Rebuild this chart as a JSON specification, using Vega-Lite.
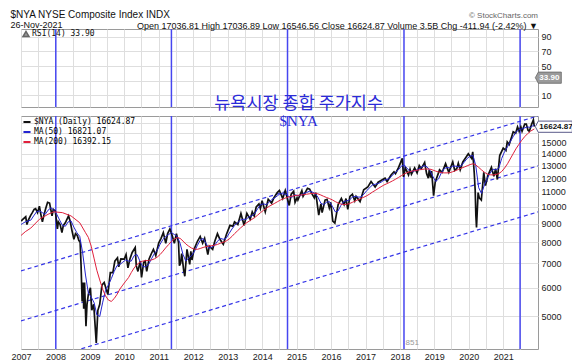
{
  "$schema": "https://vega.github.io/schema/vega-lite/v6.json",
  "padding": {"left": 10, "top": 9, "right": 1, "bottom": 5},
  "background": "white",
  "config": {
    "font": "Liberation Sans",
    "view": {"stroke": "#9a9a9a", "strokeWidth": 1},
    "axis": {"labelFont": "Liberation Sans", "labelFontSize": 9, "labelColor": "#222", "gridColor": "#dedede", "gridWidth": 1, "ticks": false, "domain": false, "title": null, "labelOverlap": false}
  },
  "title": {"text": "$NYA NYSE Composite Index INDX", "subtitle": "26-Nov-2021", "anchor": "start", "frame": "bounds", "fontSize": 10, "fontWeight": "normal", "color": "#111", "subtitleFontSize": 9, "subtitleColor": "#111", "subtitlePadding": 1, "offset": -18},
  "spacing": 0,
  "resolve": {"scale": {"color": "independent"}, "legend": {"color": "independent"}},
  "datasets": {
    "vlines": [{"d": "2008-01-05"}, {"d": "2011-05-15"}, {"d": "2014-09-27"}, {"d": "2018-02-13"}, {"d": "2021-06-28"}],
    "channels": [
      {"k": "a", "d": "2007-01-01", "v": 6674}, {"k": "a", "d": "2022-01-04", "v": 17800},
      {"k": "b", "d": "2007-01-01", "v": 4863}, {"k": "b", "d": "2022-01-04", "v": 12970},
      {"k": "c", "d": "2007-01-01", "v": 3635}, {"k": "c", "d": "2022-01-04", "v": 9695}
    ],
    "price": [
      {"d":"2007-01-03","v":9140},{"d":"2007-01-20","v":9250},{"d":"2007-02-20","v":9400},{"d":"2007-03-05","v":8950},{"d":"2007-03-20","v":9200},{"d":"2007-04-15","v":9500},{"d":"2007-05-01","v":9650},{"d":"2007-05-20","v":9850},{"d":"2007-06-05","v":9900},{"d":"2007-06-25","v":9650},{"d":"2007-07-15","v":10050},{"d":"2007-08-01","v":9500},{"d":"2007-08-16","v":9100},{"d":"2007-09-01","v":9500},{"d":"2007-09-20","v":9900},{"d":"2007-10-10","v":10300},{"d":"2007-10-31","v":10250},{"d":"2007-11-26","v":9450},{"d":"2007-12-10","v":9850},{"d":"2007-12-31","v":9740},
      {"d":"2008-01-22","v":8700},{"d":"2008-02-01","v":9100},{"d":"2008-02-20","v":8950},{"d":"2008-03-10","v":8500},{"d":"2008-03-25","v":8900},{"d":"2008-04-15","v":9050},{"d":"2008-05-19","v":9450},{"d":"2008-06-05","v":9150},{"d":"2008-06-25","v":8600},{"d":"2008-07-15","v":8150},{"d":"2008-08-01","v":8450},{"d":"2008-08-20","v":8350},{"d":"2008-09-05","v":8100},{"d":"2008-09-19","v":8000},{"d":"2008-09-29","v":6900},{"d":"2008-10-10","v":5500},{"d":"2008-10-20","v":6200},{"d":"2008-10-27","v":5250},{"d":"2008-11-05","v":6200},{"d":"2008-11-20","v":4700},{"d":"2008-12-01","v":5400},{"d":"2008-12-15","v":5750},
      {"d":"2009-01-06","v":6000},{"d":"2009-01-20","v":5200},{"d":"2009-02-10","v":5400},{"d":"2009-03-09","v":4230},{"d":"2009-03-26","v":5200},{"d":"2009-04-15","v":5400},{"d":"2009-05-08","v":6100},{"d":"2009-06-01","v":6200},{"d":"2009-07-10","v":5750},{"d":"2009-08-05","v":6600},{"d":"2009-09-01","v":6600},{"d":"2009-09-22","v":7100},{"d":"2009-10-20","v":7250},{"d":"2009-11-02","v":6850},{"d":"2009-11-25","v":7200},{"d":"2009-12-31","v":7190},
      {"d":"2010-01-19","v":7400},{"d":"2010-02-08","v":6800},{"d":"2010-03-01","v":7200},{"d":"2010-03-25","v":7500},{"d":"2010-04-26","v":7740},{"d":"2010-05-07","v":6900},{"d":"2010-05-25","v":6650},{"d":"2010-06-18","v":7100},{"d":"2010-07-02","v":6400},{"d":"2010-07-25","v":7050},{"d":"2010-08-10","v":7100},{"d":"2010-08-26","v":6650},{"d":"2010-09-20","v":7200},{"d":"2010-10-15","v":7450},{"d":"2010-11-05","v":7650},{"d":"2010-11-30","v":7350},{"d":"2010-12-31","v":7960},
      {"d":"2011-01-25","v":8200},{"d":"2011-02-18","v":8500},{"d":"2011-03-16","v":7950},{"d":"2011-04-05","v":8450},{"d":"2011-04-29","v":8700},{"d":"2011-05-23","v":8350},{"d":"2011-06-15","v":7950},{"d":"2011-07-07","v":8450},{"d":"2011-07-29","v":8000},{"d":"2011-08-08","v":6900},{"d":"2011-08-20","v":7000},{"d":"2011-09-01","v":7450},{"d":"2011-09-22","v":6700},{"d":"2011-10-04","v":6450},{"d":"2011-10-27","v":7650},{"d":"2011-11-25","v":6950},{"d":"2011-12-07","v":7550},{"d":"2011-12-19","v":7150},
      {"d":"2012-01-10","v":7650},{"d":"2012-02-15","v":8050},{"d":"2012-03-15","v":8300},{"d":"2012-04-10","v":7950},{"d":"2012-05-01","v":8200},{"d":"2012-06-04","v":7400},{"d":"2012-06-20","v":7800},{"d":"2012-07-25","v":7650},{"d":"2012-08-17","v":8050},{"d":"2012-09-14","v":8450},{"d":"2012-10-10","v":8150},{"d":"2012-11-15","v":7900},{"d":"2012-12-18","v":8400},
      {"d":"2013-01-25","v":8900},{"d":"2013-02-25","v":8850},{"d":"2013-03-14","v":9100},{"d":"2013-04-18","v":8950},{"d":"2013-05-21","v":9600},{"d":"2013-06-24","v":8900},{"d":"2013-07-23","v":9600},{"d":"2013-08-27","v":9250},{"d":"2013-09-18","v":9700},{"d":"2013-10-09","v":9450},{"d":"2013-10-30","v":10000},{"d":"2013-11-28","v":10200},{"d":"2013-12-13","v":9900},{"d":"2013-12-31","v":10400},
      {"d":"2014-02-03","v":9700},{"d":"2014-03-06","v":10500},{"d":"2014-04-11","v":10250},{"d":"2014-05-05","v":10600},{"d":"2014-06-10","v":10950},{"d":"2014-07-03","v":11100},{"d":"2014-08-07","v":10550},{"d":"2014-09-03","v":11100},{"d":"2014-10-15","v":10100},{"d":"2014-11-05","v":10850},{"d":"2014-12-01","v":11050},{"d":"2014-12-16","v":10300},
      {"d":"2015-01-06","v":10600},{"d":"2015-01-15","v":10450},{"d":"2015-02-26","v":11100},{"d":"2015-03-11","v":10700},{"d":"2015-04-27","v":11250},{"d":"2015-05-20","v":11200},{"d":"2015-06-15","v":10850},{"d":"2015-07-08","v":10600},{"d":"2015-07-23","v":10950},{"d":"2015-08-24","v":9500},{"d":"2015-09-16","v":10200},{"d":"2015-09-29","v":9650},{"d":"2015-10-30","v":10450},{"d":"2015-11-20","v":10500},{"d":"2015-12-14","v":9950},{"d":"2015-12-29","v":10300},
      {"d":"2016-01-20","v":9150},{"d":"2016-02-11","v":9030},{"d":"2016-03-17","v":10150},{"d":"2016-04-20","v":10550},{"d":"2016-05-19","v":10150},{"d":"2016-06-08","v":10550},{"d":"2016-06-27","v":9850},{"d":"2016-07-20","v":10700},{"d":"2016-08-15","v":10850},{"d":"2016-09-09","v":10400},{"d":"2016-09-23","v":10700},{"d":"2016-11-04","v":10350},{"d":"2016-12-13","v":11150},
      {"d":"2017-01-26","v":11350},{"d":"2017-03-01","v":11750},{"d":"2017-04-13","v":11350},{"d":"2017-05-15","v":11700},{"d":"2017-06-19","v":11850},{"d":"2017-07-27","v":12000},{"d":"2017-08-18","v":11750},{"d":"2017-09-29","v":12250},{"d":"2017-10-30","v":12500},{"d":"2017-11-15","v":12350},{"d":"2017-12-18","v":12850},
      {"d":"2018-01-26","v":13600},{"d":"2018-02-08","v":12100},{"d":"2018-02-27","v":12800},{"d":"2018-04-02","v":12250},{"d":"2018-04-18","v":12700},{"d":"2018-05-03","v":12300},{"d":"2018-06-06","v":12800},{"d":"2018-07-02","v":12400},{"d":"2018-07-25","v":13000},{"d":"2018-08-15","v":12750},{"d":"2018-09-20","v":13250},{"d":"2018-10-11","v":12350},{"d":"2018-10-29","v":12000},{"d":"2018-11-08","v":12650},{"d":"2018-11-23","v":12050},{"d":"2018-12-03","v":12550},{"d":"2018-12-24","v":10750},
      {"d":"2019-01-10","v":11700},{"d":"2019-02-25","v":12650},{"d":"2019-03-25","v":12450},{"d":"2019-04-30","v":13150},{"d":"2019-06-03","v":12450},{"d":"2019-07-15","v":13300},{"d":"2019-08-05","v":12600},{"d":"2019-08-27","v":12750},{"d":"2019-09-12","v":13200},{"d":"2019-10-02","v":12650},{"d":"2019-10-30","v":13300},{"d":"2019-11-29","v":13650},{"d":"2019-12-27","v":14000},
      {"d":"2020-01-31","v":13600},{"d":"2020-02-12","v":14180},{"d":"2020-02-28","v":12400},{"d":"2020-03-09","v":11100},{"d":"2020-03-16","v":9500},{"d":"2020-03-23","v":8780},{"d":"2020-04-09","v":10950},{"d":"2020-04-21","v":10600},{"d":"2020-05-13","v":10450},{"d":"2020-06-08","v":12450},{"d":"2020-06-26","v":11450},{"d":"2020-07-22","v":12200},{"d":"2020-08-28","v":12850},{"d":"2020-09-23","v":12150},{"d":"2020-10-12","v":12750},{"d":"2020-10-30","v":11900},{"d":"2020-11-24","v":13850},{"d":"2020-12-31","v":14520},
      {"d":"2021-01-29","v":14300},{"d":"2021-02-12","v":15100},{"d":"2021-03-04","v":14850},{"d":"2021-03-31","v":15600},{"d":"2021-04-16","v":16100},{"d":"2021-05-12","v":15950},{"d":"2021-06-01","v":16600},{"d":"2021-06-18","v":16150},{"d":"2021-07-06","v":16600},{"d":"2021-07-19","v":16150},{"d":"2021-08-16","v":16900},{"d":"2021-09-02","v":16900},{"d":"2021-09-20","v":16250},{"d":"2021-10-04","v":16150},{"d":"2021-10-29","v":16900},{"d":"2021-11-16","v":17350},{"d":"2021-11-26","v":16625}
    ],
    "ma50": [
      {"d":"2007-01-01","v":8950},{"d":"2007-01-15","v":9000},{"d":"2007-02-15","v":9100},{"d":"2007-03-15","v":9150},{"d":"2007-04-15","v":9200},{"d":"2007-05-15","v":9450},{"d":"2007-06-15","v":9700},{"d":"2007-07-15","v":9750},{"d":"2007-08-15","v":9650},{"d":"2007-09-15","v":9550},{"d":"2007-10-15","v":9800},{"d":"2007-11-15","v":9950},{"d":"2007-12-15","v":9800},
      {"d":"2008-01-15","v":9550},{"d":"2008-02-15","v":9200},{"d":"2008-03-15","v":8900},{"d":"2008-04-15","v":8850},{"d":"2008-05-15","v":9100},{"d":"2008-06-15","v":9150},{"d":"2008-07-15","v":8800},{"d":"2008-08-15","v":8500},{"d":"2008-09-15","v":8300},{"d":"2008-10-15","v":7500},{"d":"2008-11-15","v":6500},{"d":"2008-12-15","v":5800},
      {"d":"2009-01-15","v":5650},{"d":"2009-02-15","v":5450},{"d":"2009-03-15","v":5050},{"d":"2009-04-15","v":5000},{"d":"2009-05-15","v":5450},{"d":"2009-06-15","v":5900},{"d":"2009-07-15","v":6100},{"d":"2009-08-15","v":6350},{"d":"2009-09-15","v":6650},{"d":"2009-10-15","v":6900},{"d":"2009-11-15","v":6950},{"d":"2009-12-15","v":7050},
      {"d":"2010-01-15","v":7150},{"d":"2010-02-15","v":7100},{"d":"2010-03-15","v":7100},{"d":"2010-04-15","v":7350},{"d":"2010-05-15","v":7400},{"d":"2010-06-15","v":7100},{"d":"2010-07-15","v":6850},{"d":"2010-08-15","v":6850},{"d":"2010-09-15","v":6950},{"d":"2010-10-15","v":7200},{"d":"2010-11-15","v":7450},{"d":"2010-12-15","v":7600},
      {"d":"2011-01-15","v":7900},{"d":"2011-02-15","v":8150},{"d":"2011-03-15","v":8300},{"d":"2011-04-15","v":8400},{"d":"2011-05-15","v":8500},{"d":"2011-06-15","v":8400},{"d":"2011-07-15","v":8300},{"d":"2011-08-15","v":7950},{"d":"2011-09-15","v":7400},{"d":"2011-10-15","v":7100},{"d":"2011-11-15","v":7250},{"d":"2011-12-15","v":7350},
      {"d":"2012-01-15","v":7550},{"d":"2012-02-15","v":7850},{"d":"2012-03-15","v":8100},{"d":"2012-04-15","v":8200},{"d":"2012-05-15","v":7950},{"d":"2012-06-15","v":7700},{"d":"2012-07-15","v":7750},{"d":"2012-08-15","v":7850},{"d":"2012-09-15","v":8050},{"d":"2012-10-15","v":8200},{"d":"2012-11-15","v":8150},{"d":"2012-12-15","v":8200},
      {"d":"2013-01-15","v":8450},{"d":"2013-02-15","v":8700},{"d":"2013-03-15","v":8900},{"d":"2013-04-15","v":9050},{"d":"2013-05-15","v":9200},{"d":"2013-06-15","v":9250},{"d":"2013-07-15","v":9250},{"d":"2013-08-15","v":9400},{"d":"2013-09-15","v":9450},{"d":"2013-10-15","v":9600},{"d":"2013-11-15","v":9900},{"d":"2013-12-15","v":10150},
      {"d":"2014-01-15","v":10200},{"d":"2014-02-15","v":10150},{"d":"2014-03-15","v":10300},{"d":"2014-04-15","v":10500},{"d":"2014-05-15","v":10600},{"d":"2014-06-15","v":10750},{"d":"2014-07-15","v":10900},{"d":"2014-08-15","v":10850},{"d":"2014-09-15","v":10850},{"d":"2014-10-15","v":10650},{"d":"2014-11-15","v":10650},{"d":"2014-12-15","v":10800},
      {"d":"2015-01-15","v":10750},{"d":"2015-02-15","v":10750},{"d":"2015-03-15","v":10900},{"d":"2015-04-15","v":10950},{"d":"2015-05-15","v":11050},{"d":"2015-06-15","v":11000},{"d":"2015-07-15","v":10900},{"d":"2015-08-15","v":10650},{"d":"2015-09-15","v":10250},{"d":"2015-10-15","v":10150},{"d":"2015-11-15","v":10300},{"d":"2015-12-15","v":10350},
      {"d":"2016-01-15","v":10050},{"d":"2016-02-15","v":9700},{"d":"2016-03-15","v":9750},{"d":"2016-04-15","v":10100},{"d":"2016-05-15","v":10350},{"d":"2016-06-15","v":10400},{"d":"2016-07-15","v":10450},{"d":"2016-08-15","v":10650},{"d":"2016-09-15","v":10700},{"d":"2016-10-15","v":10650},{"d":"2016-11-15","v":10650},{"d":"2016-12-15","v":10850},
      {"d":"2017-01-15","v":11100},{"d":"2017-02-15","v":11300},{"d":"2017-03-15","v":11500},{"d":"2017-04-15","v":11550},{"d":"2017-05-15","v":11600},{"d":"2017-06-15","v":11700},{"d":"2017-07-15","v":11850},{"d":"2017-08-15","v":11900},{"d":"2017-09-15","v":12000},{"d":"2017-10-15","v":12250},{"d":"2017-11-15","v":12450},{"d":"2017-12-15","v":12650},
      {"d":"2018-01-15","v":12950},{"d":"2018-02-15","v":13050},{"d":"2018-03-15","v":12800},{"d":"2018-04-15","v":12550},{"d":"2018-05-15","v":12500},{"d":"2018-06-15","v":12600},{"d":"2018-07-15","v":12700},{"d":"2018-08-15","v":12850},{"d":"2018-09-15","v":13000},{"d":"2018-10-15","v":12900},{"d":"2018-11-15","v":12600},{"d":"2018-12-15","v":12150},
      {"d":"2019-01-15","v":11750},{"d":"2019-02-15","v":11950},{"d":"2019-03-15","v":12400},{"d":"2019-04-15","v":12750},{"d":"2019-05-15","v":12850},{"d":"2019-06-15","v":12800},{"d":"2019-07-15","v":12950},{"d":"2019-08-15","v":12950},{"d":"2019-09-15","v":12900},{"d":"2019-10-15","v":13000},{"d":"2019-11-15","v":13300},{"d":"2019-12-15","v":13600},
      {"d":"2020-01-15","v":13800},{"d":"2020-02-15","v":13850},{"d":"2020-03-15","v":13000},{"d":"2020-04-15","v":11300},{"d":"2020-05-15","v":10900},{"d":"2020-06-15","v":11500},{"d":"2020-07-15","v":12000},{"d":"2020-08-15","v":12400},{"d":"2020-09-15","v":12700},{"d":"2020-10-15","v":12650},{"d":"2020-11-15","v":12800},{"d":"2020-12-15","v":13600},
      {"d":"2021-01-15","v":14200},{"d":"2021-02-15","v":14650},{"d":"2021-03-15","v":15100},{"d":"2021-04-15","v":15600},{"d":"2021-05-15","v":16050},{"d":"2021-06-15","v":16300},{"d":"2021-07-15","v":16400},{"d":"2021-08-15","v":16500},{"d":"2021-09-15","v":16600},{"d":"2021-10-15","v":16550},{"d":"2021-11-26","v":16821}
    ],
    "ma200": [
      {"d":"2007-01-01","v":8350},{"d":"2007-02-15","v":8550},{"d":"2007-04-15","v":8750},{"d":"2007-07-15","v":9250},{"d":"2007-10-15","v":9550},{"d":"2007-12-15","v":9700},
      {"d":"2008-03-15","v":9650},{"d":"2008-06-15","v":9450},{"d":"2008-09-15","v":9050},{"d":"2008-11-15","v":8500},{"d":"2008-12-15","v":8250},
      {"d":"2009-01-15","v":7800},{"d":"2009-02-15","v":7200},{"d":"2009-03-15","v":6700},{"d":"2009-04-15","v":6300},{"d":"2009-05-15","v":5950},{"d":"2009-06-15","v":5700},{"d":"2009-07-15","v":5550},{"d":"2009-08-15","v":5500},{"d":"2009-09-15","v":5600},{"d":"2009-10-15","v":5750},{"d":"2009-11-15","v":5950},{"d":"2009-12-15","v":6100},
      {"d":"2010-01-15","v":6250},{"d":"2010-02-15","v":6400},{"d":"2010-03-15","v":6600},{"d":"2010-04-15","v":6800},{"d":"2010-05-15","v":6950},{"d":"2010-06-15","v":7050},{"d":"2010-07-15","v":7100},{"d":"2010-08-15","v":7120},{"d":"2010-09-15","v":7130},{"d":"2010-10-15","v":7150},{"d":"2010-11-15","v":7200},{"d":"2010-12-15","v":7280},
      {"d":"2011-01-15","v":7400},{"d":"2011-02-15","v":7560},{"d":"2011-03-15","v":7720},{"d":"2011-04-15","v":7880},{"d":"2011-05-15","v":8040},{"d":"2011-06-15","v":8160},{"d":"2011-07-15","v":8240},{"d":"2011-08-15","v":8200},{"d":"2011-09-15","v":8060},{"d":"2011-10-15","v":7910},{"d":"2011-11-15","v":7800},{"d":"2011-12-15","v":7710},
      {"d":"2012-01-15","v":7660},{"d":"2012-02-15","v":7650},{"d":"2012-03-15","v":7690},{"d":"2012-04-15","v":7740},{"d":"2012-05-15","v":7780},{"d":"2012-06-15","v":7810},{"d":"2012-07-15","v":7830},{"d":"2012-08-15","v":7850},{"d":"2012-09-15","v":7890},{"d":"2012-10-15","v":7950},{"d":"2012-11-15","v":8000},{"d":"2012-12-15","v":8060},
      {"d":"2013-01-15","v":8160},{"d":"2013-02-15","v":8300},{"d":"2013-03-15","v":8450},{"d":"2013-04-15","v":8600},{"d":"2013-05-15","v":8750},{"d":"2013-06-15","v":8890},{"d":"2013-07-15","v":9030},{"d":"2013-08-15","v":9140},{"d":"2013-09-15","v":9250},{"d":"2013-10-15","v":9360},{"d":"2013-11-15","v":9500},{"d":"2013-12-15","v":9650},
      {"d":"2014-01-15","v":9790},{"d":"2014-02-15","v":9920},{"d":"2014-03-15","v":10040},{"d":"2014-04-15","v":10140},{"d":"2014-05-15","v":10240},{"d":"2014-06-15","v":10350},{"d":"2014-07-15","v":10450},{"d":"2014-08-15","v":10540},{"d":"2014-09-15","v":10610},{"d":"2014-10-15","v":10670},{"d":"2014-11-15","v":10710},{"d":"2014-12-15","v":10750},
      {"d":"2015-01-15","v":10770},{"d":"2015-02-15","v":10790},{"d":"2015-03-15","v":10810},{"d":"2015-04-15","v":10840},{"d":"2015-05-15","v":10870},{"d":"2015-06-15","v":10900},{"d":"2015-07-15","v":10910},{"d":"2015-08-15","v":10870},{"d":"2015-09-15","v":10790},{"d":"2015-10-15","v":10700},{"d":"2015-11-15","v":10620},{"d":"2015-12-15","v":10550},
      {"d":"2016-01-15","v":10460},{"d":"2016-02-15","v":10350},{"d":"2016-03-15","v":10260},{"d":"2016-04-15","v":10190},{"d":"2016-05-15","v":10160},{"d":"2016-06-15","v":10170},{"d":"2016-07-15","v":10220},{"d":"2016-08-15","v":10300},{"d":"2016-09-15","v":10390},{"d":"2016-10-15","v":10480},{"d":"2016-11-15","v":10560},{"d":"2016-12-15","v":10640},
      {"d":"2017-01-15","v":10740},{"d":"2017-02-15","v":10860},{"d":"2017-03-15","v":10990},{"d":"2017-04-15","v":11110},{"d":"2017-05-15","v":11240},{"d":"2017-06-15","v":11370},{"d":"2017-07-15","v":11490},{"d":"2017-08-15","v":11590},{"d":"2017-09-15","v":11690},{"d":"2017-10-15","v":11800},{"d":"2017-11-15","v":11920},{"d":"2017-12-15","v":12050},
      {"d":"2018-01-15","v":12190},{"d":"2018-02-15","v":12320},{"d":"2018-03-15","v":12420},{"d":"2018-04-15","v":12500},{"d":"2018-05-15","v":12560},{"d":"2018-06-15","v":12600},{"d":"2018-07-15","v":12640},{"d":"2018-08-15","v":12680},{"d":"2018-09-15","v":12710},{"d":"2018-10-15","v":12720},{"d":"2018-11-15","v":12710},{"d":"2018-12-15","v":12640},
      {"d":"2019-01-15","v":12550},{"d":"2019-02-15","v":12480},{"d":"2019-03-15","v":12430},{"d":"2019-04-15","v":12410},{"d":"2019-05-15","v":12410},{"d":"2019-06-15","v":12430},{"d":"2019-07-15","v":12500},{"d":"2019-08-15","v":12590},{"d":"2019-09-15","v":12690},{"d":"2019-10-15","v":12790},{"d":"2019-11-15","v":12880},{"d":"2019-12-15","v":12980},
      {"d":"2020-01-15","v":13080},{"d":"2020-02-15","v":13150},{"d":"2020-03-15","v":13050},{"d":"2020-04-15","v":12850},{"d":"2020-05-15","v":12650},{"d":"2020-06-15","v":12460},{"d":"2020-07-15","v":12320},{"d":"2020-08-15","v":12260},{"d":"2020-09-15","v":12250},{"d":"2020-10-15","v":12280},{"d":"2020-11-15","v":12360},{"d":"2020-12-15","v":12520},
      {"d":"2021-01-15","v":12800},{"d":"2021-02-15","v":13150},{"d":"2021-03-15","v":13550},{"d":"2021-04-15","v":14000},{"d":"2021-05-15","v":14450},{"d":"2021-06-15","v":14860},{"d":"2021-07-15","v":15250},{"d":"2021-08-15","v":15600},{"d":"2021-09-15","v":15900},{"d":"2021-10-15","v":16150},{"d":"2021-11-26","v":16392}
    ]
  },
  "vconcat": [
    {
      "width": 517,
      "height": 78,
      "title": {"text": "© StockCharts.com", "subtitle": "Open 17036.81  High 17036.89  Low 16546.56  Close 16624.87  Volume 3.5B  Chg -411.94 (-2.42%) ▼", "anchor": "end", "frame": "group", "fontSize": 8, "fontWeight": "normal", "color": "#666", "subtitleFontSize": 9, "subtitleColor": "#111", "subtitlePadding": 2, "offset": -3},
      "layer": [
        {
          "data": {"name": "vlines"},
          "mark": {"type": "rule", "color": "#4646f0", "strokeWidth": 1.5},
          "encoding": {
            "x": {"field": "d", "type": "temporal",
              "scale": {"domain": [1167609600000, 1641254400000]},
              "axis": {"labels": false, "grid": true, "ticks": false, "domain": false, "tickCount": 60,
                "values": [1167609600000,1183248000000,1199145600000,1214870400000,1230768000000,1246406400000,1262304000000,1277942400000,1293840000000,1309478400000,1325376000000,1341100800000,1356998400000,1372636800000,1388534400000,1404172800000,1420070400000,1435708800000,1451606400000,1467331200000,1483228800000,1498867200000,1514764800000,1530403200000,1546300800000,1561939200000,1577836800000,1593561600000,1609459200000,1625097600000]}
            }
          }
        },
        {
          "data": {"values": [{"d": "2015-01-23", "r": -2, "label": "뉴욕시장 종합 주가지수"}]},
          "mark": {"type": "text", "font": "Noto Sans CJK KR", "fontSize": 17.5, "color": "#2b2bd8"},
          "encoding": {
            "x": {"field": "d", "type": "temporal", "scale": {"domain": [1167609600000, 1641254400000]}},
            "y": {"field": "r", "type": "quantitative", "scale": {"domain": [-6.5, 101], "nice": false, "zero": false},
              "axis": {"orient": "right", "values": [10, 30, 50, 70, 90], "tickCount": 20, "grid": true, "labelPadding": 3, "labelOverlap": false,
                "labelExpr": "datum.value == 30 ? '' : datum.label"}},
            "text": {"field": "label"}
          }
        },
        {
          "data": {"values": [{"d": "2021-11-26", "r": 33.9, "name": "RSI(14) 33.90"}]},
          "mark": {"type": "point", "shape": "M0.05,0 L0.2,-0.28 L1.35,-0.28 L1.35,0.28 L0.2,0.28 Z", "size": 1600, "filled": true, "opacity": 1, "stroke": "#666", "strokeWidth": 0.8},
          "encoding": {
            "x": {"field": "d", "type": "temporal", "scale": {"domain": [1167609600000, 1641254400000]}},
            "y": {"field": "r", "type": "quantitative", "scale": {"domain": [-6.5, 101], "nice": false, "zero": false}},
            "color": {"field": "name", "type": "nominal", "scale": {"range": ["#9a9a9a"]},
              "legend": {"orient": "top-left", "offset": 1, "padding": 0, "title": null, "labelFont": "DejaVu Sans Mono", "labelFontSize": 8, "labelColor": "#111", "symbolType": "triangle-up", "symbolSize": 36, "labelOffset": 2}}
          }
        },
        {
          "data": {"values": [{"d": "2021-11-26", "r": 33.9, "lab": "33.90"}]},
          "mark": {"type": "text", "align": "left", "dx": 5, "fontSize": 8, "fontWeight": "bold", "color": "white"},
          "encoding": {
            "x": {"field": "d", "type": "temporal", "scale": {"domain": [1167609600000, 1641254400000]}},
            "y": {"field": "r", "type": "quantitative", "scale": {"domain": [-6.5, 101], "nice": false, "zero": false}},
            "text": {"field": "lab"}
          }
        }
      ]
    },
    {
      "width": 517,
      "height": 233,
      "resolve": {"axis": {"x": "independent"}},
      "layer": [
        {
          "data": {"name": "vlines"},
          "mark": {"type": "rule", "color": "#4646f0", "strokeWidth": 1.5},
          "encoding": {
            "x": {"field": "d", "type": "temporal",
              "scale": {"domain": [1167609600000, 1641254400000]},
              "axis": {"orient": "bottom", "grid": true, "ticks": false, "domain": false, "labelFlush": false, "labelOverlap": false, "labelPadding": 3, "tickCount": 40,
                "format": "%Y", "formatType": "utc",
                "values": [1167609600000,1199145600000,1230768000000,1262304000000,1293840000000,1325376000000,1356998400000,1388534400000,1420070400000,1451606400000,1483228800000,1514764800000,1546300800000,1577836800000,1609459200000]}
            }
          }
        },
        {
          "data": {"name": "channels"},
          "mark": {"type": "line", "color": "#3535e8", "strokeWidth": 1.2, "strokeDash": [4, 3], "clip": true},
          "encoding": {
            "x": {"field": "d", "type": "temporal", "scale": {"domain": [1167609600000, 1641254400000]},
              "axis": {"orient": "top", "labels": false, "grid": true, "ticks": false, "domain": false, "tickCount": 40,
                "values": [1183248000000,1214870400000,1246406400000,1277942400000,1309478400000,1341100800000,1372636800000,1404172800000,1435708800000,1467331200000,1498867200000,1530403200000,1561939200000,1593561600000,1625097600000]}},
            "y": {"field": "v", "type": "quantitative", "scale": {"type": "log", "domain": [4070, 17790]},
              "axis": {"orient": "right", "grid": true, "labelPadding": 3, "labelOverlap": false, "tickCount": 40, "values": [5000, 6000, 7000, 8000, 9000, 10000, 11000, 12000, 13000, 14000, 15000, 16000, 17000], "labelExpr": "datum.value > 15000 ? '' : format(datum.value, 'd')"}},
            "detail": {"field": "k"}
          }
        },
        {
          "data": {"name": "price"},
          "mark": {"type": "line", "strokeWidth": 1.7, "clip": true},
          "encoding": {
            "x": {"field": "d", "type": "temporal", "scale": {"domain": [1167609600000, 1641254400000]}, "axis": null},
            "y": {"field": "v", "type": "quantitative", "scale": {"type": "log", "domain": [4070, 17790]}},
            "color": {
              "datum": "$NYA (Daily) 16624.87",
              "type": "nominal",
              "scale": {"domain": ["$NYA (Daily) 16624.87", "MA(50) 16821.07", "MA(200) 16392.15"], "range": ["#111111", "#2424d0", "#e0203c"]},
              "legend": {
                "orient": "top-left", "offset": 1, "padding": 0, "title": null, "labelFont": "DejaVu Sans Mono", "labelFontSize": 8, "symbolType": "stroke", "symbolSize": 50, "symbolStrokeWidth": 2, "rowPadding": 1, "labelOffset": 2,
                "encode": {"labels": {"fill": {"condition": [{"test": "datum.value == 'MA(50) 16821.07'", "value": "#2424d0"}, {"test": "datum.value == 'MA(200) 16392.15'", "value": "#e0203c"}], "value": "#111111"}}}
              }
            }
          }
        },
        {
          "data": {"name": "ma50"},
          "mark": {"type": "line", "strokeWidth": 1, "clip": true},
          "encoding": {
            "x": {"field": "d", "type": "temporal", "scale": {"domain": [1167609600000, 1641254400000]}, "axis": null},
            "y": {"field": "v", "type": "quantitative", "scale": {"type": "log", "domain": [4070, 17790]}},
            "color": {"datum": "MA(50) 16821.07", "type": "nominal"}
          }
        },
        {
          "data": {"name": "ma200"},
          "mark": {"type": "line", "strokeWidth": 1, "clip": true},
          "encoding": {
            "x": {"field": "d", "type": "temporal", "scale": {"domain": [1167609600000, 1641254400000]}, "axis": null},
            "y": {"field": "v", "type": "quantitative", "scale": {"type": "log", "domain": [4070, 17790]}},
            "color": {"datum": "MA(200) 16392.15", "type": "nominal"}
          }
        },
        {
          "data": {"values": [{"d": "2021-11-26", "v": 16624.87}]},
          "mark": {"type": "point", "shape": "M0.05,0 L0.2,-0.28 L1.9,-0.28 L1.9,0.28 L0.2,0.28 Z", "size": 1600, "filled": true, "fill": "white", "opacity": 1, "stroke": "#5a5a8a", "strokeWidth": 1},
          "encoding": {
            "x": {"field": "d", "type": "temporal", "scale": {"domain": [1167609600000, 1641254400000]}, "axis": null},
            "y": {"field": "v", "type": "quantitative", "scale": {"type": "log", "domain": [4070, 17790]}}
          }
        },
        {
          "data": {"values": [{"d": "2021-11-26", "v": 16624.87, "lab": "16624.87"}]},
          "mark": {"type": "text", "align": "left", "dx": 5, "fontSize": 8, "fontWeight": "bold", "color": "#111"},
          "encoding": {
            "x": {"field": "d", "type": "temporal", "scale": {"domain": [1167609600000, 1641254400000]}, "axis": null},
            "y": {"field": "v", "type": "quantitative", "scale": {"type": "log", "domain": [4070, 17790]}},
            "text": {"field": "lab"}
          }
        },
        {
          "data": {"values": [{"d": "2015-01-23", "v": 17250, "lab": "$NYA"}]},
          "mark": {"type": "text", "font": "Liberation Serif", "fontSize": 15, "color": "#2b2bd8"},
          "encoding": {
            "x": {"field": "d", "type": "temporal", "scale": {"domain": [1167609600000, 1641254400000]}, "axis": null},
            "y": {"field": "v", "type": "quantitative", "scale": {"type": "log", "domain": [4070, 17790]}},
            "text": {"field": "lab"}
          }
        },
        {
          "data": {"values": [{"d": "2018-03-01", "v": 4230, "lab": "851"}]},
          "mark": {"type": "text", "align": "left", "fontSize": 8, "color": "#999"},
          "encoding": {
            "x": {"field": "d", "type": "temporal", "scale": {"domain": [1167609600000, 1641254400000]}, "axis": null},
            "y": {"field": "v", "type": "quantitative", "scale": {"type": "log", "domain": [4070, 17790]}},
            "text": {"field": "lab"}
          }
        }
      ]
    }
  ]
}
